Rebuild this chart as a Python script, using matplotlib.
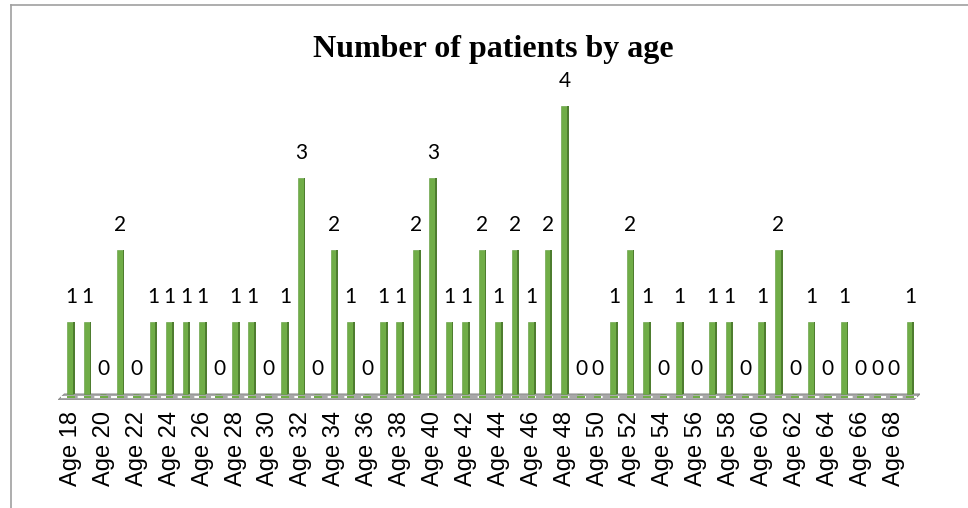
import matplotlib
matplotlib.use("Agg")
import matplotlib.pyplot as plt
from matplotlib.lines import Line2D
import numpy as np

ages = list(range(18, 70))
counts = [1, 1, 0, 2, 0, 1, 1, 1, 1, 0, 1, 1, 0, 1, 3, 0, 2, 1, 0, 1,
          1, 2, 3, 1, 1, 2, 1, 2, 1, 2, 4, 0, 0, 1, 2, 1, 0, 1, 0, 1,
          1, 0, 1, 2, 0, 1, 0, 1, 0, 0, 0, 1]
tick_labels = [f"Age {a}" for a in ages]
title = "Number of patients by age"

W, H = 968, 508
fig = plt.figure(figsize=(W / 100, H / 100), dpi=100)
fig.patch.set_facecolor("white")

# outer border (top and left only visible)
fig.add_artist(Line2D([11 / W, 11 / W], [0, 1 - 5 / H], transform=fig.transFigure,
                      color="#A0A0A0", lw=1.2))
fig.add_artist(Line2D([11 / W, 1], [1 - 5 / H, 1 - 5 / H], transform=fig.transFigure,
                      color="#A0A0A0", lw=1.2))

ax = fig.add_axes([58 / W, 1 - 400 / H, (920 - 58) / W, 320 / H])
x = np.arange(len(ages))
vals = np.array(counts)

ax.set_xlim(-0.79, len(ages) - 1 + 0.6)
ax.set_ylim(-0.083, 4.36)

# floor
floor = plt.Polygon([(-0.79, -0.083), (len(ages) - 1 + 0.2, -0.083),
                     (len(ages) - 1 + 0.6, 0.0), (-0.4, 0.0)],
                    closed=True, facecolor="#A8A8A8", edgecolor="#8C8C8C", lw=0.8, zorder=1)
ax.add_patch(floor)
ax.plot([-0.6, len(ages) - 1 + 0.4], [-0.04, -0.04], color="white", lw=1.5,
        ls=(0, (4, 4)), zorder=1.5)
# green footprints on floor
ax.bar(x, np.full(len(x), 0.03), bottom=-0.055, width=0.45, color="#70AD47", zorder=2)

# bars: front face + darker side
ax.bar(x - 0.04, vals, width=0.36, color="#70AD47", edgecolor="#5E9A3A", lw=0.4, zorder=3)
ax.bar(x + 0.19, vals, width=0.11, color="#4E7D2F", lw=0, zorder=3)

for xi, v in zip(x, vals):
    ax.annotate(str(v), (xi, v), xytext=(0, 18), textcoords="offset points",
                ha="center", va="center", fontsize=15, family="Lato", color="#000000")

ax.set_xticks(x[::2])
ax.set_xticklabels(tick_labels[::2], rotation=90, family="Liberation Sans",
                   fontsize=17, color="#000000")
ax.tick_params(axis="x", length=0, pad=8)
ax.set_yticks([])
for s in ax.spines.values():
    s.set_visible(False)
ax.patch.set_alpha(0)

fig.text(493 / W, 1 - 50 / H, title, ha="center", va="center",
         fontsize=23, fontweight="bold", family="Liberation Serif")

fig.savefig("out.png", dpi=100)
